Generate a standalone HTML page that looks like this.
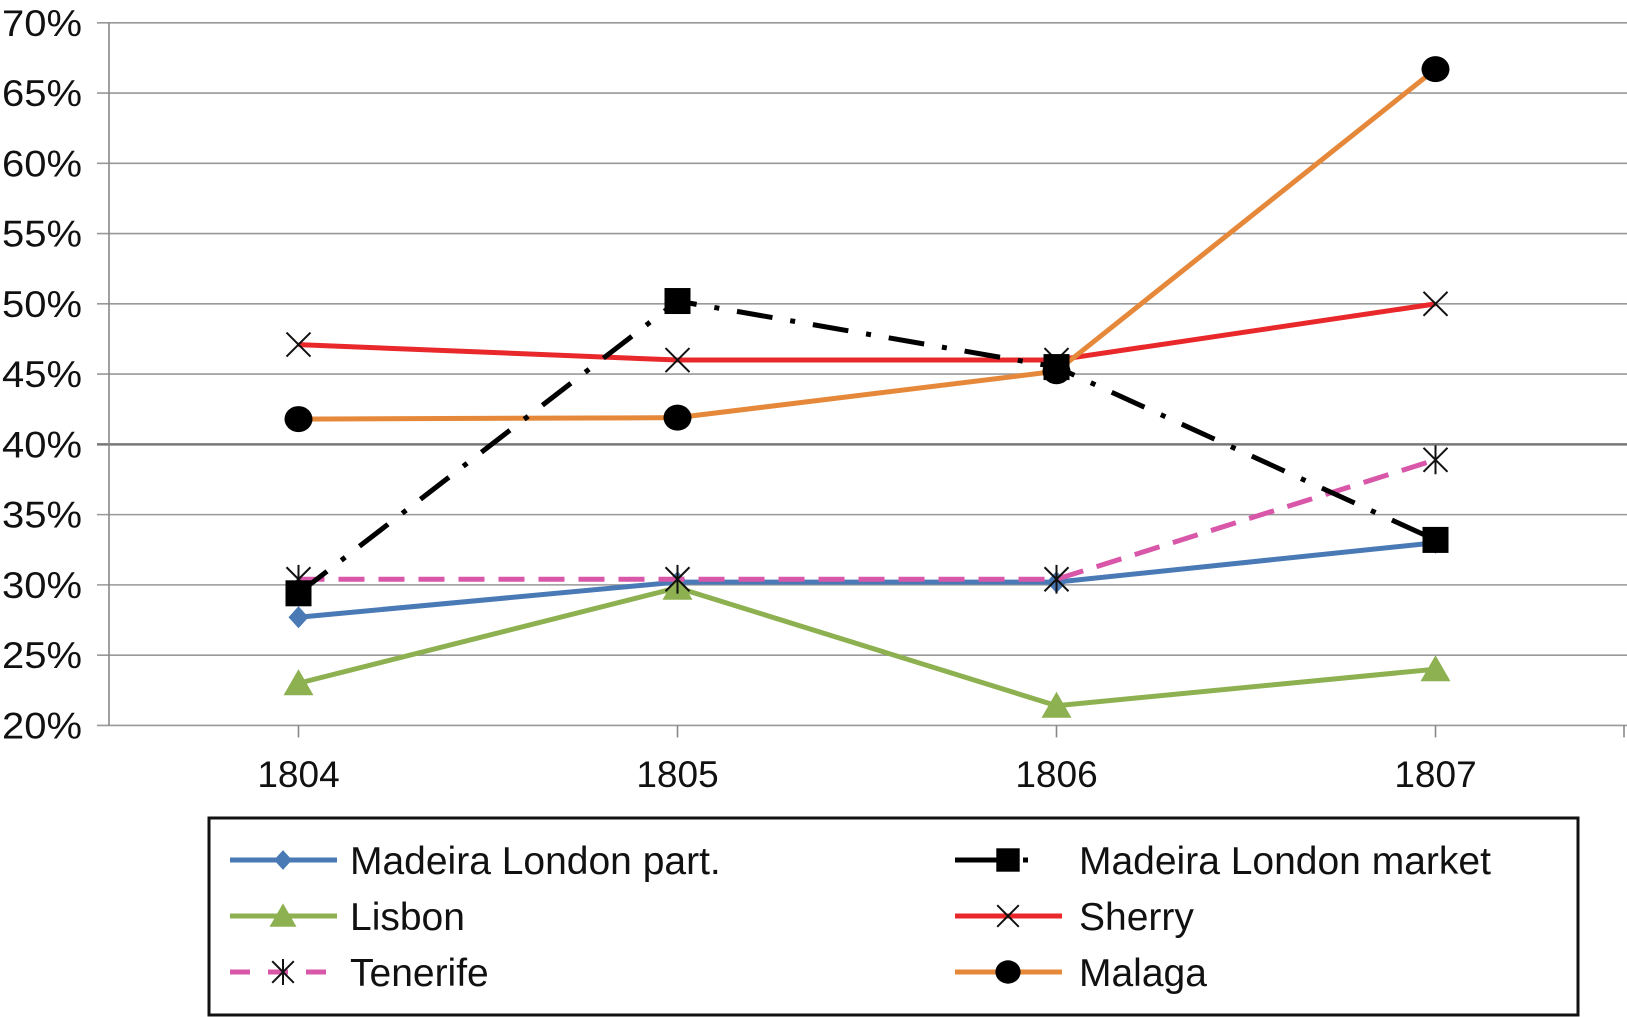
<!DOCTYPE html>
<html><head><meta charset="utf-8"><style>
html,body{margin:0;padding:0;background:#fff;}
svg{display:block;font-family:"Liberation Sans",Arial,sans-serif;}
</style></head><body>
<svg id="chart" width="1627" height="1017" viewBox="0 0 1627 1017"></svg>
<script>
const categories = ["1804","1805","1806","1807"];
const yTicks = [20,25,30,35,40,45,50,55,60,65,70];
const madeiraPart = [27.7,30.2,30.2,33.0];
const madeiraMarket = [29.4,50.2,45.5,33.2];
const lisbon = [23.0,29.8,21.4,24.0];
const sherry = [47.1,46.0,46.0,50.0];
const tenerife = [30.4,30.4,30.4,38.9];
const malaga = [41.8,41.9,45.2,66.7];

const NS="http://www.w3.org/2000/svg";
const svg=document.getElementById('chart');
const L=109,R=1627,T=22.8,B=725.4;
const band=(R-L-2)/4;
function x(i){return L+band*(i+0.5);}
function y(v){return B-(v-20)/50*(B-T);}
function mk(tag,attrs,parent){const e=document.createElementNS(NS,tag);for(const k in attrs)e.setAttribute(k,attrs[k]);(parent||svg).appendChild(e);return e;}

const grid=mk('g',{});


yTicks.forEach(t=>{
  const ln=mk('line',{x1:L-12,x2:R,y1:y(t),y2:y(t),stroke:t===40?'#777':'#999','stroke-width':t===40?2.5:1.6},grid);
  
  
  const tx=mk('text',{x:82,y:y(t)+13,'text-anchor':'end','font-size':37,fill:'#111',textLength:80,lengthAdjust:'spacingAndGlyphs'});
  tx.textContent=t+'%';
  
  
});
const ax=mk('line',{x1:L,x2:L,y1:T,y2:B,stroke:'#888','stroke-width':1.6});


for(let i=0;i<4;i++){const tk=mk('line',{x1:x(i),x2:x(i),y1:B,y2:B+12,stroke:'#888','stroke-width':1.6});

}
const tkr=mk('line',{x1:R-3,x2:R-3,y1:B,y2:B+12,stroke:'#888','stroke-width':1.6});


categories.forEach((c,i)=>{
  const tx=mk('text',{x:x(i),y:787,'text-anchor':'middle','font-size':37,fill:'#111'});
  tx.textContent=c;
  
  
});

function marker(type,cx,cy,g,s){
  s=s||1;
  if(type==='diamond')mk('path',{d:`M${cx} ${cy-11*s}L${cx+10*s} ${cy}L${cx} ${cy+11*s}L${cx-10*s} ${cy}Z`,fill:'#4a7ab5'},g);
  else if(type==='square')mk('rect',{x:cx-13*s,y:cy-13*s,width:26*s,height:26*s,fill:'#000'},g);
  else if(type==='triangle')mk('path',{d:`M${cx} ${cy-14*s}L${cx+15*s} ${cy+12*s}L${cx-15*s} ${cy+12*s}Z`,fill:'#8db050'},g);
  else if(type==='x'){const d=12*s;mk('path',{d:`M${cx-d} ${cy-d}L${cx+d} ${cy+d}M${cx+d} ${cy-d}L${cx-d} ${cy+d}`,stroke:'#111','stroke-width':2,fill:'none'},g);}
  else if(type==='star'){const d=12*s;mk('path',{d:`M${cx-d} ${cy-d}L${cx+d} ${cy+d}M${cx+d} ${cy-d}L${cx-d} ${cy+d}M${cx} ${cy-d*1.2}L${cx} ${cy+d*1.2}`,stroke:'#111','stroke-width':2,fill:'none'},g);}
  else if(type==='circle')mk('ellipse',{cx:cx,cy:cy,rx:14*s,ry:13*s,fill:'#000'},g);
}
const series=[
 {name:'madeira-london-part',label:'Madeira London part.',data:madeiraPart,color:'#4a7ab5',dash:'',m:'diamond',w:5},
 {name:'lisbon',label:'Lisbon',data:lisbon,color:'#8db050',dash:'',m:'triangle',w:5},
 {name:'tenerife',label:'Tenerife',data:tenerife,color:'#d957a8',dash:'26 14',m:'star',w:5},
 {name:'madeira-london-market',label:'Madeira London market',data:madeiraMarket,color:'#000',dash:'36 18 5 18',m:'square',w:5},
 {name:'sherry',label:'Sherry',data:sherry,color:'#e8282a',dash:'',m:'x',w:5},
 {name:'malaga',label:'Malaga',data:malaga,color:'#e5883a',dash:'',m:'circle',w:5}
];
const order=[0,1,4,5,2,3];
order.forEach(k=>{
  const s=series[k];
  const g=mk('g',{});
  
  
  const pts=s.data.map((v,i)=>x(i)+','+y(v)).join(' ');
  mk('polyline',{points:pts,fill:'none',stroke:s.color,'stroke-width':s.w,'stroke-dasharray':s.dash},g);
  s.data.forEach((v,i)=>marker(s.m,x(i),y(v),g));
});

const lg=mk('g',{});


mk('rect',{x:209,y:818,width:1369,height:197,fill:'#fff',stroke:'#111','stroke-width':3},lg);
series.forEach((s,i)=>{
  const col=i<3?0:1,row=i%3;
  const lx=col?955:230,ly=860+row*56;
  const e=mk('g',{},lg);
  
  
  mk('line',{x1:lx,x2:lx+107,y1:ly,y2:ly,stroke:s.color,'stroke-width':5,'stroke-dasharray':s.m==='square'?'44 24 5 40':(s.m==='star'?'20 18':'')},e);
  marker(s.m,lx+53,ly,e,0.9);
  const t=mk('text',{x:col?1079:350,y:ly+14,'font-size':39,fill:'#111'},e);
  t.textContent=s.label;
});
</script>
</body></html>
